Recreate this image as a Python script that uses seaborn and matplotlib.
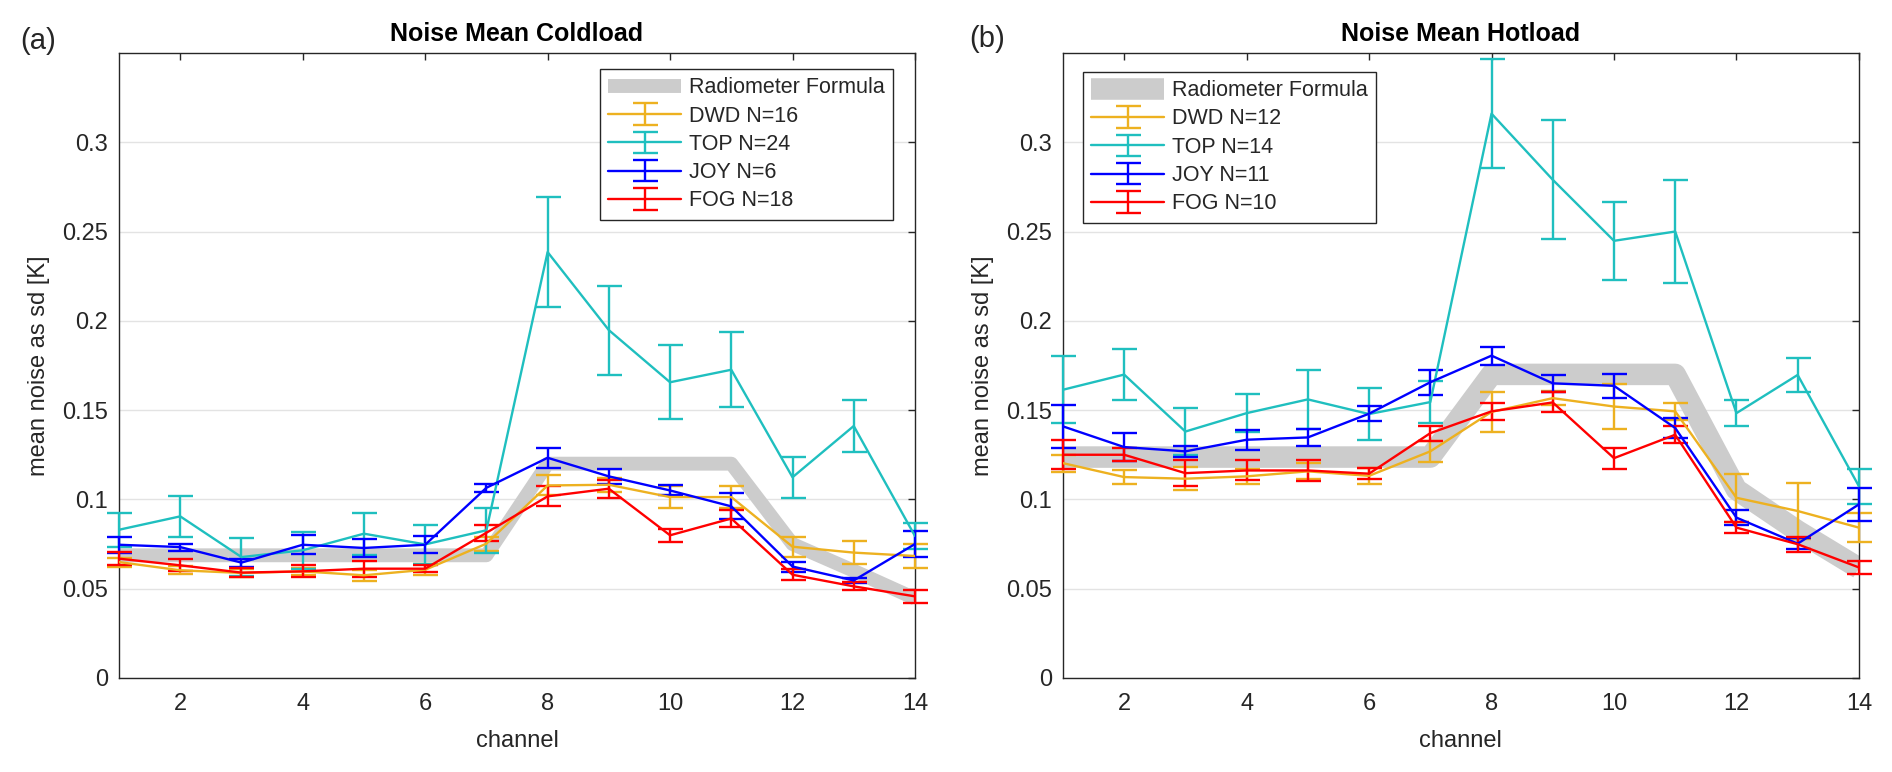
import matplotlib
matplotlib.use("Agg")
import matplotlib.pyplot as plt
import pandas as pd
import seaborn as sns


channels = [1, 2, 3, 4, 5, 6, 7, 8, 9, 10, 11, 12, 13, 14]
station_names = ["DWD", "TOP", "JOY", "FOG"]
station_colors = ["#EDB120", "#1FBFBF", "#0000FF", "#FF0000"]

# coldload panel
formula_cold = [0.0687, 0.0687, 0.0687, 0.0687, 0.0687, 0.0687, 0.0687,
                0.120, 0.120, 0.120, 0.120, 0.075, 0.060, 0.0445]
n_cold = [16, 24, 6, 18]
dwd_cold = [0.0649, 0.0603, 0.0588, 0.0597, 0.0575, 0.0606, 0.0752,
            0.1078, 0.1082, 0.1013, 0.1013, 0.0735, 0.0702, 0.0683]
dwd_cold_err = [0.0025, 0.0022, 0.002, 0.002, 0.003, 0.003, 0.004,
                0.0056, 0.004, 0.006, 0.0063, 0.0057, 0.0063, 0.0065]
top_cold = [0.083, 0.0905, 0.0677, 0.0715, 0.0808, 0.0748, 0.0827,
            0.2385, 0.1948, 0.1656, 0.1726, 0.1124, 0.1411, 0.0795]
top_cold_err = [0.0095, 0.0113, 0.0105, 0.0103, 0.0117, 0.0107, 0.0125,
                0.031, 0.0249, 0.0208, 0.0211, 0.0115, 0.0143, 0.0075]
joy_cold = [0.0746, 0.0733, 0.0646, 0.0746, 0.0728, 0.0746, 0.1065,
            0.1233, 0.1129, 0.105, 0.0961, 0.0624, 0.0546, 0.075]
joy_cold_err = [0.0045, 0.002, 0.0022, 0.0053, 0.0049, 0.0047, 0.0023,
                0.0055, 0.004, 0.0028, 0.0073, 0.0028, 0.0014, 0.0073]
fog_cold = [0.0668, 0.0631, 0.059, 0.0597, 0.0612, 0.0612, 0.0813,
            0.1017, 0.106, 0.0799, 0.0893, 0.0578, 0.0513, 0.0457]
fog_cold_err = [0.0038, 0.0033, 0.0027, 0.0033, 0.0045, 0.0019, 0.0045,
                0.0056, 0.005, 0.0035, 0.0047, 0.0032, 0.0023, 0.0035]

# hotload panel
formula_hot = [0.1237, 0.1237, 0.1237, 0.1237, 0.1237, 0.1237, 0.1237,
               0.170, 0.170, 0.170, 0.170, 0.1055, 0.0823, 0.0615]
n_hot = [12, 14, 11, 10]
dwd_hot = [0.1203, 0.1125, 0.1116, 0.1129, 0.1157, 0.1132, 0.1269,
           0.149, 0.1567, 0.152, 0.1493, 0.1009, 0.0935, 0.0842]
dwd_hot_err = [0.0047, 0.0041, 0.0065, 0.004, 0.0045, 0.0045, 0.006,
               0.011, 0.004, 0.0128, 0.0047, 0.0135, 0.0158, 0.0082]
top_hot = [0.1614, 0.1699, 0.138, 0.1483, 0.156, 0.1478, 0.1545,
           0.316, 0.279, 0.2448, 0.25, 0.1483, 0.1697, 0.1074]
top_hot_err = [0.0187, 0.0141, 0.013, 0.0105, 0.0166, 0.0148, 0.0116,
               0.0305, 0.0332, 0.0218, 0.0286, 0.0074, 0.0094, 0.0098]
joy_hot = [0.1409, 0.1293, 0.1269, 0.1334, 0.1347, 0.148, 0.1656,
           0.1805, 0.165, 0.1636, 0.14, 0.0898, 0.0752, 0.0972]
joy_hot_err = [0.0119, 0.0078, 0.0032, 0.0055, 0.005, 0.0043, 0.007,
               0.0051, 0.0047, 0.0068, 0.0058, 0.0042, 0.003, 0.0092]
fog_hot = [0.125, 0.125, 0.1147, 0.1162, 0.1162, 0.1144, 0.1371,
           0.1493, 0.1543, 0.1231, 0.1362, 0.0842, 0.0749, 0.0619]
fog_hot_err = [0.0082, 0.0037, 0.0073, 0.0056, 0.0059, 0.0031, 0.0042,
               0.0047, 0.0056, 0.0058, 0.0047, 0.0032, 0.0043, 0.0035]

yticks = [0, 0.05, 0.1, 0.15, 0.2, 0.25, 0.3]
ytick_labels = ["0", "0.05", "0.1", "0.15", "0.2", "0.25", "0.3"]
xticks = [2, 4, 6, 8, 10, 12, 14]


sns.set_theme(style="white")
plt.rcParams["font.family"] = ["Liberation Sans", "DejaVu Sans"]
axcol = "#262626"

fig = plt.figure(figsize=(18.92, 7.72), dpi=100)
ax_l = fig.add_axes([0.0629, 0.1218, 0.4207, 0.8096])
ax_r = fig.add_axes([0.5618, 0.1218, 0.4207, 0.8096])


def draw_panel(ax, formula, means, errs, ns, title, band_lw, leg_xy):
    df = pd.DataFrame({"channel": channels, "formula": formula})
    sns.lineplot(data=df, x="channel", y="formula", ax=ax, color="#CCCCCC",
                 linewidth=band_lw, solid_joinstyle="round",
                 solid_capstyle="butt", zorder=2, legend=False)
    handles = [ax.lines[-1]]
    labels = ["Radiometer Formula"]
    for name, n, m, e, c in zip(station_names, ns, means, errs, station_colors):
        eb = ax.errorbar(channels, m, yerr=e, color=c, lw=1.7, capsize=9,
                         capthick=1.7, zorder=3)
        for cap in eb.lines[1]:
            cap.set_clip_on(False)
        for bar in eb.lines[2]:
            bar.set_clip_on(False)
        handles.append(eb)
        labels.append(f"{name} N={n}")

    ax.set_xlim(1, 14)
    ax.set_ylim(0, 0.35)
    ax.set_xticks(xticks)
    ax.set_yticks(yticks)
    ax.set_yticklabels(ytick_labels)
    ax.tick_params(axis="both", direction="in", top=True, right=True,
                   length=5, width=1, colors=axcol, labelsize=17)
    ax.tick_params(axis="x", pad=11)
    ax.tick_params(axis="y", pad=8)
    ax.yaxis.grid(True, color="#E3E3E3", lw=1)
    ax.xaxis.grid(False)
    ax.set_axisbelow(True)
    for sp in ax.spines.values():
        sp.set_color(axcol)
        sp.set_linewidth(1)

    ax.set_title(title, fontsize=18, fontweight="bold", color="black", pad=8.5)
    ax.set_xlabel("channel", fontsize=17, color=axcol)
    ax.xaxis.set_label_coords(0.5, -0.083)
    ax.set_ylabel("mean noise as sd [K]", fontsize=17, color=axcol)
    ax.yaxis.set_label_coords(-0.1, 0.5)
    ax.yaxis.label.set_va("center")

    leg = ax.legend(handles, labels, loc="upper left", bbox_to_anchor=leg_xy,
                    bbox_transform=fig.transFigure, borderaxespad=0,
                    fontsize=15.5, handlelength=3.4, handletextpad=0.35,
                    labelspacing=0.34, borderpad=0.38, fancybox=False,
                    framealpha=1, edgecolor=axcol)
    leg.get_frame().set_linewidth(1)


draw_panel(ax_l, formula_cold,
           [dwd_cold, top_cold, joy_cold, fog_cold],
           [dwd_cold_err, top_cold_err, joy_cold_err, fog_cold_err],
           n_cold, "Noise Mean Coldload", 10, (600 / 1892, 1 - 69 / 772))
draw_panel(ax_r, formula_hot,
           [dwd_hot, top_hot, joy_hot, fog_hot],
           [dwd_hot_err, top_hot_err, joy_hot_err, fog_hot_err],
           n_hot, "Noise Mean Hotload", 15.5, (1083 / 1892, 1 - 72 / 772))

fig.text(38 / 1892, 1 - 41 / 772, "(a)", fontsize=21, ha="center", va="center")
fig.text(987 / 1892, 1 - 39 / 772, "(b)", fontsize=21, ha="center", va="center")

fig.savefig("out.png", dpi=100)
